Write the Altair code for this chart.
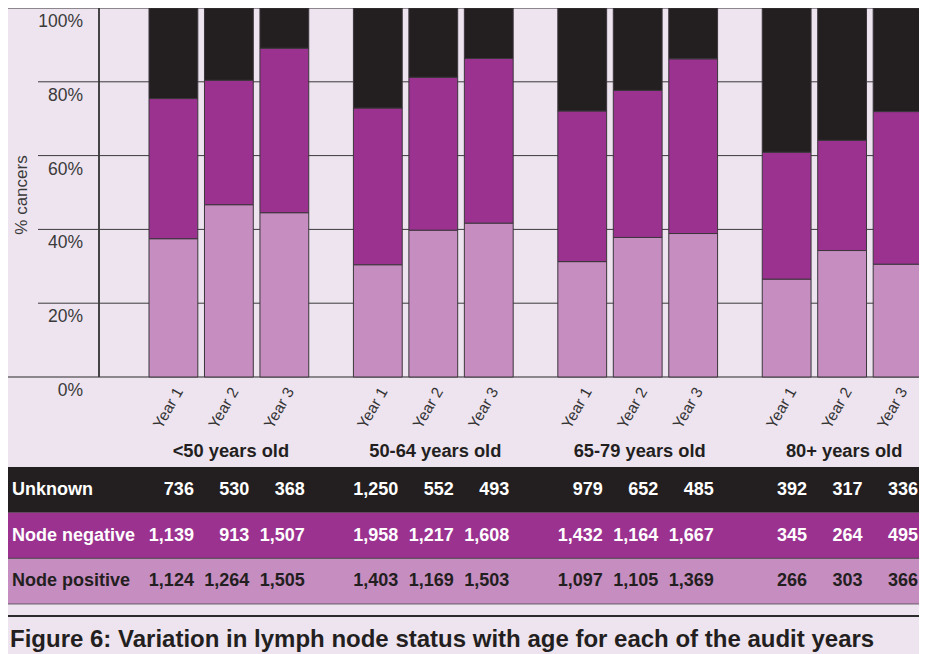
import altair as alt
import pandas as pd

# ---- data ----
ages = ["<50 years old", "50-64 years old", "65-79 years old", "80+ years old"]
years = ["Year 1", "Year 2", "Year 3"]
statuses = ["Node positive", "Node negative", "Unknown"]   # bottom -> top in the bars
table_rows = ["Unknown", "Node negative", "Node positive"]  # top -> bottom in the table
unknown = [736, 530, 368, 1250, 552, 493, 979, 652, 485, 392, 317, 336]
node_negative = [1139, 913, 1507, 1958, 1217, 1608, 1432, 1164, 1667, 345, 264, 495]
node_positive = [1124, 1264, 1505, 1403, 1169, 1503, 1097, 1105, 1369, 266, 303, 366]
y_ticks = [0, 0.2, 0.4, 0.6, 0.8, 1.0]
y_tick_labels = ["0%", "20%", "40%", "60%", "80%", "100%"]
caption = "Figure 6: Variation in lymph node status with age for each of the audit years"

# ---- styling ----
BG = "#EEE4F0"
PURPLE = "#9B3290"
LIGHT = "#C68DC1"
BLACK = "#231F20"
FONT = "Liberation Sans"
W, H = 911, 646

series = {"Unknown": unknown, "Node negative": node_negative, "Node positive": node_positive}
rows = []
for s in statuses:
    vals = series[s]
    for i, v in enumerate(vals):
        rows.append({"age": ages[i // 3], "year": years[i % 3], "status": s,
                     "count": v, "rank": statuses.index(s)})
df = pd.DataFrame(rows)
ticks_df = pd.DataFrame({"v": y_ticks, "label": y_tick_labels})
labels_df = pd.DataFrame([{"age": a, "year": y} for a in ages for y in years])
groups_df = pd.DataFrame({"age": ages})
rowlab_df = pd.DataFrame({"status": table_rows})

xscale = alt.Scale(domain=ages, range=[141, 914], paddingInner=45 / 206, paddingOuter=0,
                   round=False)
xoff = alt.Scale(domain=years, paddingInner=0.12, paddingOuter=0, round=False)
yscale = alt.Scale(domain=[0, 1], range=[369, 0])
rowscale = alt.Scale(domain=table_rows, range=[459, 596], paddingInner=0, paddingOuter=0,
                     round=False)
cscale = alt.Scale(domain=statuses, range=[LIGHT, PURPLE, BLACK])

X = alt.X("age:N", scale=xscale, axis=None, sort=ages)
XO = alt.XOffset("year:N", scale=xoff, sort=years)

grid_inner = alt.Chart(ticks_df).transform_filter("datum.v > 0 && datum.v < 1").mark_rule(
    color="#3a3a3a", strokeWidth=1).encode(
    y=alt.Y("v:Q", scale=yscale, axis=None), x=alt.value(30), x2=alt.value(W))
grid_outer = alt.Chart(ticks_df).transform_filter("datum.v == 0 || datum.v == 1").mark_rule(
    color="#2a2a2a", strokeWidth=1.2).encode(
    y=alt.Y("v:Q", scale=yscale, axis=None), x=alt.value(0), x2=alt.value(W))
vline = alt.Chart(groups_df).mark_rule(color="#3a3a3a", strokeWidth=1).encode(
    x=alt.value(91), y=alt.value(0), y2=alt.value(369))

bars = alt.Chart(df).mark_bar(stroke="#3b363b", strokeWidth=1).encode(
    x=X, xOffset=XO,
    y=alt.Y("count:Q", stack="normalize", scale=yscale, axis=None),
    color=alt.Color("status:N", scale=cscale, legend=None),
    order=alt.Order("rank:Q"),
)

ylabels = alt.Chart(ticks_df).mark_text(
    font=FONT, fontSize=17.5, color="#3a3a3a", align="right", baseline="middle", dy=14).encode(
    y=alt.Y("v:Q", scale=yscale, axis=None), x=alt.value(75), text="label:N")
ytitle = alt.Chart(groups_df).transform_filter("datum.age == '%s'" % ages[0]).mark_text(
    font=FONT, fontSize=17, color="#3a3a3a", angle=270, align="center", baseline="middle").encode(
    x=alt.value(14), y=alt.value(187), text=alt.value("% cancers"))

year_labels = alt.Chart(labels_df).mark_text(
    font=FONT, fontSize=15.5, color="#333333", angle=300, align="right", baseline="middle",
    dx=3, dy=5).encode(x=X, xOffset=XO, y=alt.value(381), text="year:N")
group_labels = alt.Chart(groups_df).mark_text(
    font=FONT, fontSize=18.3, fontWeight="bold", color=BLACK, align="center",
    baseline="alphabetic", dx=2).encode(x=X, y=alt.value(449), text="age:N")

top = alt.layer(grid_inner, grid_outer, vline, bars, ylabels, ytitle, year_labels, group_labels)

row_rects = alt.Chart(rowlab_df).mark_rect().encode(
    y=alt.Y("status:N", scale=rowscale, axis=None, sort=table_rows),
    x=alt.value(0), x2=alt.value(W),
    color=alt.Color("status:N", scale=cscale, legend=None))
row_lines = alt.Chart(rowlab_df).transform_filter("datum.status != 'Unknown'").mark_tick(
    color="#3a3a3a", thickness=1.2, orient="horizontal", size=2 * W, bandSize=1).encode(
    y=alt.Y("status:N", scale=rowscale, axis=None, sort=table_rows, bandPosition=1),
    x=alt.value(W / 2))
txtcolor = alt.condition("datum.status == 'Node positive'", alt.value(BLACK), alt.value("white"))
row_labels = alt.Chart(rowlab_df).mark_text(
    font=FONT, fontSize=18, fontWeight="bold", align="left", baseline="middle").encode(
    y=alt.Y("status:N", scale=rowscale, axis=None, sort=table_rows),
    x=alt.value(4), text="status:N", color=txtcolor)
numbers = alt.Chart(df).mark_text(
    font=FONT, fontSize=18, fontWeight="bold", align="right", baseline="middle", dx=20.5).encode(
    x=X, xOffset=XO,
    y=alt.Y("status:N", scale=rowscale, axis=None, sort=table_rows),
    text=alt.Text("count:Q", format=","), color=txtcolor)
sep = alt.Chart(groups_df).transform_filter("datum.age == '%s'" % ages[0]).mark_rule(
    color="#2a2a2a", strokeWidth=1.8).encode(x=alt.value(0), x2=alt.value(W), y=alt.value(608))
cap = alt.Chart(groups_df).transform_filter("datum.age == '%s'" % ages[0]).mark_text(
    font=FONT, fontSize=24, fontWeight="bold", color=BLACK, align="left",
    baseline="alphabetic").encode(
    x=alt.value(2), y=alt.value(639), text=alt.value(caption))

table = alt.layer(row_rects, row_lines, row_labels, numbers, sep, cap)

chart = alt.layer(top, table).resolve_scale(y="independent", color="shared").properties(
    width=W, height=H, autosize=alt.AutoSizeParams(type="none"), padding=0,
    background=BG,
).configure_view(stroke=None, fill=BG)

chart.save("out.html", embed_options={"renderer": "svg", "actions": False})
